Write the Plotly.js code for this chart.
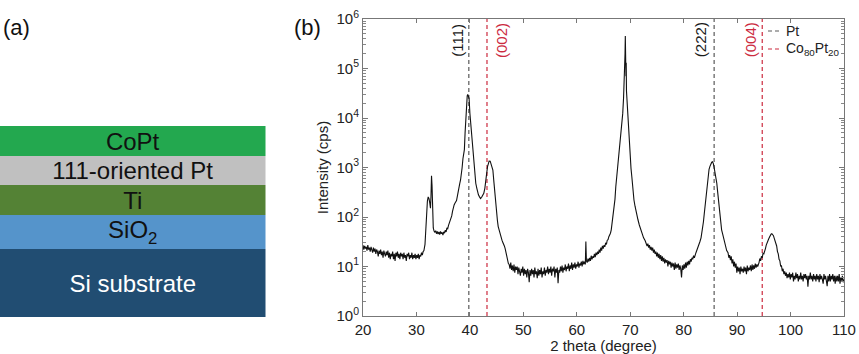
<!DOCTYPE html>
<html>
<head>
<meta charset="utf-8">
<script src="https://cdn.plot.ly/plotly-3.0.1.min.js"></script>
<style>html,body{margin:0;padding:0;background:#fff;}#chart{width:859px;height:354px;}</style>
</head>
<body>
<div id="chart"></div>
<script>
// ---- Panel (a): layer stack (bottom to top) ----
const layerNames = ["Si substrate", "SiO<sub>2</sub>", "Ti", "111-oriented Pt", "CoPt"];
const layerThickness = [68, 34, 30, 29, 30];
const layerColors = ["#214d72", "#5594cb", "#548235", "#c0c0c0", "#23a84f"];
const layerTextColors = ["#ffffff", "#111111", "#111111", "#111111", "#111111"];

// ---- Panel (b): XRD scan, read segment by segment ----
const scan1_2theta = [
20.0,20.15,20.3,20.45,20.6,20.75,20.9,21.05,21.2,21.35,
21.5,21.65,21.8,21.95,22.1,22.25,22.4,22.55,22.7,22.85,
23.0,23.15,23.3,23.45,23.6,23.75,23.9,24.05,24.2,24.35,
24.5,24.65,24.8,24.95,25.1,25.25,25.4,25.55,25.7,25.85,
26.0,26.15,26.3,26.45,26.6,26.75,26.9,27.05,27.2,27.35,
27.5,27.65,27.8,27.95,28.1,28.25,28.4,28.55,28.7,28.85,
29.0,29.15,29.3,29.45,29.6,29.75,29.9,30.05,30.2,30.35,
30.5,30.65,30.8,30.95,31.1,31.25,31.4];
const scan1_counts = [
27,22,26,23,25,21,27,22,24,20,
25,22,19,24,20,23,18,22,20,16,
21,18,22,17,20,15,21,18,16,20,
17,21,15,19,14,18,16,20,14,18,
13,19,16,20,15,18,14,19,16,18,
14,19,15,17,13,18,16,19,14,17,
15,19,14,17,15,18,14,17,15,18,
14,17,16,19,17,20,21];

const scan2_2theta = [
31.6,31.75,31.9,32.05,32.2,32.35,32.5,32.62,32.72,32.82,
32.92,33.02,33.15,33.3,33.45,33.6,33.75,33.9,34.05,34.2,
34.35,34.5,34.65,34.8,34.95,35.1,35.25,35.4,35.55,35.7,
35.85,36.0,36.15,36.3,36.45,36.6,36.75,36.9,37.05,37.2,
37.35,37.5,37.65,37.8,37.95,38.1,38.25,38.4,38.55,38.7,
38.85,38.97,39.1,39.25,39.4,39.5,39.6,39.7,39.85,40.0,
40.2,40.35,40.5,40.65,40.8,40.95,41.1,41.3,41.45,41.6,
41.8,42.0,42.2,42.4,42.6,42.8,42.95,43.1,43.3,43.45,
43.6,43.8,43.95,44.1,44.3,44.5,44.7,44.85,45.0,45.15,
45.3,45.5,45.65,45.8,46.0,46.15,46.3,46.45,46.6,46.75,
46.9,47.05,47.2];
const scan2_counts = [
28,55,130,210,255,235,190,150,260,680,
420,140,60,52,49,53,46,51,45,50,
44,51,46,49,43,50,47,54,50,60,
58,68,75,80,95,105,130,160,175,190,
200,215,260,330,440,470,560,700,1000,1500,
1900,2300,5000,11000,23000,28000,30000,28500,25000,12500,
6500,4200,2600,1450,900,650,480,380,320,280,
255,235,250,275,300,380,480,700,1040,1250,
1350,1340,1200,1050,890,500,260,170,118,85,
64,52,45,40,34,31,29,26,23,19,
16,13,11.5];

const scan3_2theta = [
47.35,47.5,47.65,47.8,47.95,48.1,48.25,48.4,48.55,48.7,
48.85,49.0,49.15,49.3,49.45,49.6,49.75,49.9,50.05,50.2,
50.35,50.5,50.65,50.8,50.95,51.1,51.25,51.4,51.55,51.7,
51.85,52.0,52.15,52.3,52.45,52.6,52.75,52.9,53.05,53.2,
53.35,53.5,53.65,53.8,53.95,54.1,54.25,54.4,54.55,54.7,
54.85,55.0,55.15,55.3,55.45,55.6,55.75,55.9,56.05,56.2,
56.35,56.5,56.65,56.8,56.95,57.1,57.25,57.4,57.55,57.7,
57.85,58.0,58.15,58.3,58.45,58.6,58.75,58.9,59.05,59.2,
59.35,59.5,59.65,59.8,59.95,60.1,60.25,60.4,60.55,60.7,
60.85,61.0,61.15,61.3,61.45,61.6,61.7,61.8,61.95,62.1,
62.25,62.4,62.55,62.7,62.85,63.0,63.15,63.3,63.45,63.6,
63.75,63.9,64.05,64.2,64.35,64.5,64.65,64.8,64.95,65.1,
65.25,65.4,65.55,65.7,65.85,66.0,66.15,66.3,66.45,66.6];
const scan3_counts = [
11,9,12,8.5,10.5,8,11,7.5,10,8.5,
10,7,9.5,8,6.5,9,7.5,10,6.5,9,
7,8.5,6,9,7.5,4.8,8.5,6.5,9,7,
8.5,6,9.5,7,8,5.8,9,6.5,8.5,7,
9.5,6,8,7,9.5,6.5,8.5,7.5,10,7,
9,7.5,10,6.5,9,8,10,6,9,7.5,
9.5,4.6,8.5,7.5,10,8,10.5,7.5,9.5,8.5,
11,8,10,9,11.5,8,10.5,9,12,8.5,
11,9.5,12,9,11,10,12.5,9.5,11.5,10.5,
12.5,10,13,11,12.5,11,32,13,12,14.5,
12.5,15,13,16.5,14,16,15,18,15.5,19,
17,20,18,22,19,24,21,26,23,27,
25,30,28,34,35,40,43,47,55,72];

const scan4_2theta = [
66.75,67.0,67.15,67.3,67.5,67.65,67.8,68.0,68.2,68.4,
68.6,68.75,68.85,68.95,69.03,69.08,69.12,69.16,69.2,69.25,
69.3,69.38,69.45,69.55,69.65,69.75,69.85,70.0,70.15,70.3,
70.5,70.7,70.9,71.05,71.2,71.45,71.7,71.95,72.2,72.5,
72.8];
const scan4_counts = [
90,138,230,410,700,950,1210,2000,3600,7000,
12400,25000,43000,90000,200000,455000,120000,260000,70000,130000,
35000,24000,18000,9000,5700,3800,2640,1500,950,650,
350,220,165,135,119,88,69,56,47,38,
33];

const scan5_2theta = [
73.0,73.15,73.3,73.45,73.6,73.75,73.9,74.05,74.2,74.35,
74.5,74.65,74.8,74.95,75.1,75.25,75.4,75.55,75.7,75.85,
76.0,76.15,76.3,76.45,76.6,76.75,76.9,77.05,77.2,77.35,
77.5,77.65,77.8,77.95,78.1,78.25,78.4,78.55,78.7,78.85,
79.0,79.15,79.3,79.45,79.6,79.75,79.9,80.05,80.2,80.35,
80.5,80.65,80.8,80.95,81.1,81.25,81.4,81.55,81.7,81.85,
82.0,82.15,82.3,82.45,82.6,82.75,82.9];
const scan5_counts = [
30,26,29,24,27,22,25,21,24,19,
22,18,20,16,19,15,18,14,17,13,
16,12.5,15,11.5,14,12,13.5,10,13,11,
12.5,9.5,12,10,11.5,8.5,12,9,11,9.5,
11.5,8.5,10.5,9,6,10.5,8.5,11,9,12,
9.5,12.5,10.5,13,11,14,12.5,15,14,16.5,
15,18,19,21,23,26,29];

const scan6_2theta = [
83.05,83.25,83.5,83.7,83.85,84.0,84.15,84.3,84.45,84.6,
84.75,84.9,85.1,85.25,85.4,85.55,85.7,85.9,86.05,86.2,
86.35,86.5,86.65,86.8,86.95,87.1,87.3,87.45,87.6,87.8,
88.05];
const scan6_counts = [
32,38,55,80,115,162,240,350,520,760,
920,1040,1200,1280,1310,1200,1000,760,600,480,
330,220,150,100,75,55,45,38,34,27,
21];

const scan7_2theta = [
88.3,88.45,88.6,88.75,88.9,89.05,89.2,89.35,89.5,89.65,
89.8,89.95,90.1,90.25,90.4,90.55,90.7,90.85,91.0,91.15,
91.3,91.45,91.6,91.75,91.9,92.05,92.2,92.35,92.5,92.65,
92.8,92.95,93.1,93.25,93.4,93.55,93.7,93.85];
const scan7_counts = [
19,15,17,13.5,16,11.5,14,10,12.5,9.5,
11.5,7.5,10,8,9.5,7,10,8,9,7.5,
10,8,9.5,7,10.5,8,9.5,8.5,10.5,8,
11,8.5,10.5,9,11.5,9.5,11,10];

const scan8_2theta = [
94.1,94.25,94.4,94.55,94.7,94.85,95.0,95.15,95.3,95.45,
95.6,95.75,95.9,96.05,96.2,96.35,96.5,96.65,96.8,96.95,
97.1,97.25,97.4,97.55,97.7,97.85,98.0,98.15];
const scan8_counts = [
12,14.5,13,16,15,18.5,18,22,23,27,
29,33,36,39,43,45,46,44,42,37,
33,27,26,20,18,14,13,10];

const scan9_2theta = [
98.3,98.45,98.6,98.75,98.9,99.05,99.2,99.35,99.5,99.65,
99.8,99.95,100.1,100.25,100.4,100.55,100.7,100.85,101.0,101.15,
101.3,101.45,101.6,101.75,101.9,102.05,102.2,102.35,102.5,102.65,
102.8,102.95,103.1,103.25,103.4,103.55,103.7,103.85,104.0,104.15,
104.3,104.45,104.6,104.75,104.9,105.05,105.2,105.35,105.5,105.65,
105.8,105.95,106.1,106.25,106.4,106.55,106.7,106.85,107.0,107.15,
107.3,107.45,107.6,107.75,107.9,108.05,108.2,108.35,108.5,108.65,
108.8,108.95,109.1,109.25,109.4,109.55,109.7,109.85,110.0];
const scan9_counts = [
10.5,8,9,7,8,6.5,7.5,5.8,7,6,
7.5,5.5,7,6,7.5,5,6.5,5.5,7.5,5.8,
7,5,6.5,5.5,7.5,5.5,6.5,5,7,5.8,
7,5.5,6.5,3.9,6.5,5.5,7.5,5.5,6.5,5,
7,5.5,6.5,5,7,5.5,6.5,4.8,7,5.5,
6.5,5.5,4.5,7,5.5,6.5,5,4,6.5,5,
7,5,6.5,5.5,7,5,6.5,4.5,6.5,5,
6.5,5,7,4.5,6,5.2,6.5,4.8,5.5];

const twoTheta = [].concat(scan1_2theta, scan2_2theta, scan3_2theta, scan4_2theta, scan5_2theta,
                           scan6_2theta, scan7_2theta, scan8_2theta, scan9_2theta);
const intensity = [].concat(scan1_counts, scan2_counts, scan3_counts, scan4_counts, scan5_counts,
                            scan6_counts, scan7_counts, scan8_counts, scan9_counts);

// Reference peak positions (2 theta, degrees)
const ptPeakPos = [39.8, 85.7];
const ptPeakLabels = ["(111)", "(222)"];
const coPtPeakPos = [43.2, 94.7];
const coPtPeakLabels = ["(002)", "(004)"];
const yTickVals = [1, 10, 100, 1000, 10000, 100000, 1000000];
const yTickText = ["10<sup>0</sup>","10<sup>1</sup>","10<sup>2</sup>","10<sup>3</sup>","10<sup>4</sup>","10<sup>5</sup>","10<sup>6</sup>"];
const xTickVals = [20, 30, 40, 50, 60, 70, 80, 90, 100, 110];
const minorTickVals = [];
for (let d = 0; d < 6; d++) for (let m = 2; m <= 9; m++) minorTickVals.push(m * Math.pow(10, d));

const W = 859, H = 354;
const px = v => v / W;
const py = v => 1 - v / H;
const FONT = "Liberation Sans, Arial, Helvetica, sans-serif";
const PT_COLOR = "#5a5a5a";
const CO_COLOR = "#cc2b3f";

const traces = [];
layerNames.forEach((name, i) => {
  traces.push({
    type: "bar", x: [0], y: [layerThickness[i]], xaxis: "x2", yaxis: "y2",
    width: 1, marker: {color: layerColors[i], line: {width: 0}},
    text: [name], textposition: "inside", insidetextanchor: "middle",
    constraintext: "none", textangle: 0,
    textfont: {family: FONT, size: 24, color: layerTextColors[i]},
    showlegend: false, hoverinfo: "skip"
  });
});
ptPeakPos.forEach(p => traces.push({
  type: "scatter", mode: "lines", x: [p, p], y: [1, 1e6],
  line: {color: PT_COLOR, width: 1.2, dash: "4px,3px"}, showlegend: false, hoverinfo: "skip"
}));
coPtPeakPos.forEach(p => traces.push({
  type: "scatter", mode: "lines", x: [p, p], y: [1, 1e6],
  line: {color: CO_COLOR, width: 1.2, dash: "4px,3px"}, showlegend: false, hoverinfo: "skip"
}));
traces.push({
  type: "scatter", mode: "lines", x: twoTheta, y: intensity,
  line: {color: "#111111", width: 1.1}, showlegend: false
});

const annotations = [
  {text: "(a)", xref: "paper", yref: "paper", x: px(1), y: py(27), xanchor: "left", yanchor: "middle", showarrow: false, font: {family: FONT, size: 22, color: "#111"}},
  {text: "(b)", xref: "paper", yref: "paper", x: px(292), y: py(27), xanchor: "left", yanchor: "middle", showarrow: false, font: {family: FONT, size: 22, color: "#111"}},
  {text: "Pt", xref: "paper", yref: "paper", x: px(784), y: py(31), xanchor: "left", yanchor: "middle", showarrow: false, font: {family: FONT, size: 14, color: "#222"}},
  {text: "Co<sub>80</sub>Pt<sub>20</sub>", xref: "paper", yref: "paper", x: px(784), y: py(49), xanchor: "left", yanchor: "middle", showarrow: false, font: {family: FONT, size: 14, color: "#222"}}
];
const labShift = [-11, -13];
ptPeakPos.forEach((p, i) => annotations.push({
  text: ptPeakLabels[i], xref: "x", yref: "paper", x: p, y: py(40), xshift: labShift[i],
  textangle: -90, showarrow: false, xanchor: "center", yanchor: "middle",
  font: {family: FONT, size: 15, color: "#1a1a1a"}
}));
const coShift = [15, -11];
coPtPeakPos.forEach((p, i) => annotations.push({
  text: coPtPeakLabels[i], xref: "x", yref: "paper", x: p, y: py(40), xshift: coShift[i],
  textangle: -90, showarrow: false, xanchor: "center", yanchor: "middle",
  font: {family: FONT, size: 15, color: CO_COLOR}
}));

const shapes = [
  {type: "line", xref: "paper", yref: "paper", x0: px(768), x1: px(781), y0: py(31), y1: py(31), line: {color: PT_COLOR, width: 1.2, dash: "4px,3px"}},
  {type: "line", xref: "paper", yref: "paper", x0: px(768), x1: px(781), y0: py(49), y1: py(49), line: {color: CO_COLOR, width: 1.2, dash: "4px,3px"}}
];

const axisCommon = {
  showline: true, linecolor: "#777", linewidth: 1, mirror: "ticks",
  ticks: "inside", tickcolor: "#777", showgrid: false, zeroline: false,
  tickfont: {family: FONT, size: 15, color: "#222"}
};

const layout = {
  width: W, height: H,
  margin: {l: 0, r: 0, t: 0, b: 0},
  paper_bgcolor: "#fff", plot_bgcolor: "#fff",
  barmode: "stack", bargap: 0,
  font: {family: FONT},
  xaxis: Object.assign({}, axisCommon, {
    domain: [px(363), px(844)], range: [20, 110], tickvals: xTickVals, ticklen: 4,
    anchor: "y",
    title: {text: "2 theta (degree)", font: {family: FONT, size: 15, color: "#222"}, standoff: 2}
  }),
  yaxis: Object.assign({}, axisCommon, {
    domain: [py(316), py(19)], type: "log", range: [0, 6], tickvals: yTickVals, ticktext: yTickText,
    ticklen: 5, anchor: "x",
    minor: {tickmode: "array", tickvals: minorTickVals, ticks: "inside", ticklen: 3, tickcolor: "#888", showgrid: false},
    title: {text: "Intensity (cps)", font: {family: FONT, size: 15, color: "#222"}, standoff: 4}
  }),
  xaxis2: {domain: [0, px(265.5)], range: [-0.5, 0.5], visible: false, anchor: "y2", fixedrange: true},
  yaxis2: {domain: [py(317), py(126)], range: [0, 191], visible: false, anchor: "x2", fixedrange: true},
  annotations: annotations,
  shapes: shapes,
  showlegend: false
};

Plotly.newPlot("chart", traces, layout, {staticPlot: true, displayModeBar: false});
</script>
</body>
</html>
